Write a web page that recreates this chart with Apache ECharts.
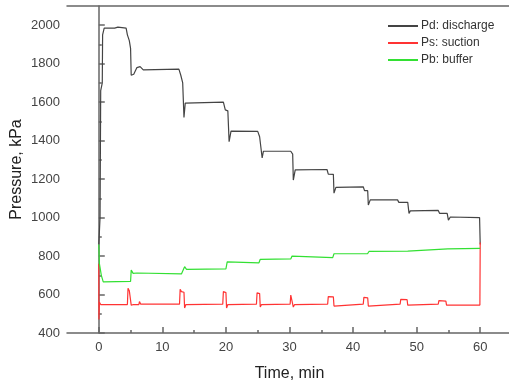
<!DOCTYPE html>
<html>
<head>
<meta charset="utf-8">
<script src="https://cdn.jsdelivr.net/npm/echarts@6/dist/echarts.min.js"></script>
<style>
  html, body { margin: 0; padding: 0; background: #fff; }
  #chart { width: 509px; height: 384px; }
</style>
</head>
<body>
<div id="chart"></div>
<script>
// Pressure readings over a 60-minute run, [time in min, pressure in kPa]
const discharge = [
  [0, 860], [0.2, 1000], [0.3, 1660], [0.55, 1700], [0.6, 1950], [0.85, 1985],
  [2.5, 1985], [2.6, 1992], [3.0, 1990], [3.1, 1985], [4.3, 1985], [4.5, 1950],
  [4.8, 1920], [5.0, 1880], [5.1, 1740], [5.5, 1745], [6.0, 1780], [6.5, 1785],
  [7.0, 1768], [12.6, 1772], [12.9, 1740], [13.2, 1700], [13.4, 1520], [13.6, 1595],
  [19.6, 1600], [19.9, 1560], [20.3, 1555], [20.5, 1395], [20.8, 1450],
  [25.0, 1448], [25.3, 1420], [25.6, 1415], [25.7, 1310], [25.9, 1345],
  [30.2, 1345], [30.5, 1330], [30.6, 1195], [30.9, 1248],
  [35.9, 1250], [36.1, 1226], [36.9, 1225], [37.0, 1127], [37.3, 1157],
  [41.6, 1160], [41.8, 1140], [42.3, 1140], [42.4, 1065], [42.7, 1092],
  [47.0, 1092], [47.2, 1079], [48.6, 1079], [48.8, 1022], [49.0, 1035],
  [53.4, 1037], [53.6, 1022], [54.8, 1022], [55.0, 987], [55.3, 1003],
  [59.9, 1000], [60.0, 860]
];

const suction = [
  [0, 760], [0.02, 470], [0.1, 560], [0.3, 548], [4.5, 548], [4.6, 632], [4.8, 620],
  [5.0, 618], [5.1, 545], [5.5, 548], [6.3, 548], [6.4, 563], [6.6, 550],
  [12.7, 550], [12.8, 627], [13.0, 615], [13.4, 612], [13.5, 530], [13.7, 548],
  [19.5, 550], [19.6, 615], [20.0, 610], [20.1, 530], [20.3, 548],
  [24.8, 550], [24.9, 609], [25.3, 605], [25.4, 535], [25.6, 548],
  [30.1, 550], [30.2, 597], [30.5, 590], [30.6, 535], [30.8, 548],
  [36.0, 550], [36.1, 589], [36.9, 588], [37.0, 540], [37.2, 548],
  [41.6, 550], [41.7, 585], [42.3, 583], [42.4, 540], [42.6, 547],
  [47.4, 550], [47.5, 575], [48.5, 573], [48.6, 545],
  [53.4, 550], [53.5, 568], [54.6, 566], [54.7, 545], [59.95, 545], [60.0, 870]
];

const buffer = [
  [0, 860], [0.1, 760], [0.4, 700], [0.7, 666], [5.0, 668], [5.1, 727], [5.4, 710],
  [5.7, 705], [6.0, 712], [6.3, 705], [13.0, 707], [13.5, 745], [13.8, 731],
  [20.0, 733], [20.2, 770], [20.5, 764], [25.2, 765], [25.4, 783],
  [30.2, 785], [30.4, 800], [30.6, 790], [36.8, 792], [37.0, 812],
  [42.3, 813], [42.5, 824], [48.6, 826], [48.8, 836], [54.9, 837],
  [55.0, 842], [55.2, 838], [60.0, 840]
];

const seriesNames = ['Pd: discharge', 'Ps: suction', 'Pb: buffer'];
const timeTicks = [0, 10, 20, 30, 40, 50, 60];
const timeMinorTicks = [5, 15, 25, 35, 45, 55];
const pressureTicks = [400, 600, 800, 1000, 1200, 1400, 1600, 1800, 2000];
const pressureMinorTicks = [500, 700, 900, 1100, 1300, 1500, 1700, 1900];

const FONT = '"Liberation Sans", Arial, sans-serif';
const AXIS_COLOR = '#666';
const colors = ['#444444', '#ff3333', '#33e033'];

const chart = echarts.init(document.getElementById('chart'), null, { renderer: 'canvas' });

const frameLine = { show: true, lineStyle: { color: AXIS_COLOR, width: 1.5 } };
const plainNumber = v => String(v);

chart.setOption({
  animation: false,
  backgroundColor: '#fff',
  textStyle: { fontFamily: FONT },
  grid: { left: 67, top: 6, width: 445, height: 327, containLabel: false, outerBoundsMode: 'none' },
  legend: {
    orient: 'vertical',
    left: 383,
    top: 15,
    itemWidth: 30,
    itemHeight: 2,
    itemGap: 5,
    icon: 'rect',
    data: seriesNames,
    textStyle: { fontFamily: FONT, fontSize: 12, color: '#333', padding: [0, 0, 0, -2] }
  },
  xAxis: [
    {
      type: 'value', position: 'bottom', min: -5, max: 65,
      name: 'Time, min', nameLocation: 'middle', nameGap: 33, nameMoveOverlap: false,
      nameTextStyle: { fontFamily: FONT, fontSize: 16, color: '#222' },
      axisLine: frameLine,
      axisTick: { show: true, inside: true, length: 6, customValues: timeTicks,
                  lineStyle: { color: AXIS_COLOR, width: 1.5 } },
      axisLabel: { show: true, margin: 8, customValues: timeTicks, formatter: plainNumber,
                   fontFamily: FONT, fontSize: 13, color: '#444' },
      splitLine: { show: false }
    },
    {
      type: 'value', position: 'bottom', min: -5, max: 65,
      axisLine: { show: false },
      axisTick: { show: true, inside: true, length: 3, customValues: timeMinorTicks,
                  lineStyle: { color: AXIS_COLOR, width: 1.5 } },
      axisLabel: { show: false },
      splitLine: { show: false }
    },
    {
      type: 'value', position: 'top', min: -5, max: 65,
      axisLine: frameLine,
      axisTick: { show: false },
      axisLabel: { show: false },
      splitLine: { show: false }
    }
  ],
  yAxis: [
    {
      type: 'value', position: 'left', min: 400, max: 2100,
      name: 'Pressure, kPa', nameLocation: 'middle', nameGap: 42, nameMoveOverlap: false,
      nameTextStyle: { fontFamily: FONT, fontSize: 16, color: '#222' },
      axisLine: frameLine,
      axisTick: { show: true, inside: true, length: 6, customValues: pressureTicks,
                  lineStyle: { color: AXIS_COLOR, width: 1.5 } },
      axisLabel: { show: true, margin: 7, customValues: pressureTicks, formatter: plainNumber,
                   fontFamily: FONT, fontSize: 13, color: '#444' },
      splitLine: { show: false }
    },
    {
      type: 'value', position: 'left', min: 400, max: 2100,
      axisLine: { show: false },
      axisTick: { show: true, inside: true, length: 3, customValues: pressureMinorTicks,
                  lineStyle: { color: AXIS_COLOR, width: 1.5 } },
      axisLabel: { show: false },
      splitLine: { show: false }
    }
  ],
  series: [
    { name: seriesNames[0], type: 'line', data: discharge, color: colors[0] },
    { name: seriesNames[1], type: 'line', data: suction, color: colors[1] },
    { name: seriesNames[2], type: 'line', data: buffer, color: colors[2] }
  ].map(s => Object.assign(s, {
    xAxisIndex: 0, yAxisIndex: 0, showSymbol: false, symbol: 'none',
    lineStyle: { width: 1.2, color: s.color }, itemStyle: { color: s.color }
  }))
});
</script>
</body>
</html>
